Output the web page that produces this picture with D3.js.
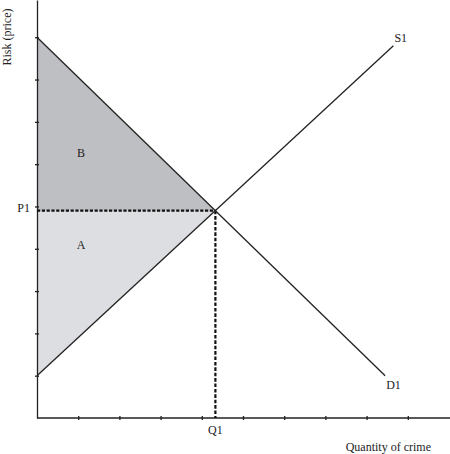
<!DOCTYPE html>
<meta charset="utf-8">
<script src="https://d3js.org/d3.v7.min.js"></script>
<body>
<svg width="450" height="454"></svg>
<style type="text/css">
body{ margin: 0; background: #fff; }
text{ font-family: 'Liberation Serif', 'DejaVu Serif', serif; font-size: 12px; fill: #222; }
</style>
<script>
    // values (axis units: one tick = 1)
    const xTicks = [1, 2, 3, 4, 5, 6, 7, 8, 9];
    const yTicks = [1, 2, 3, 4, 5, 6, 7, 8, 9];
    const demand = [[0, 9], [8.45, 1.0]];
    const supply = [[0, 1], [8.65, 8.8]];
    const Q1 = 4.33, P1 = 4.9;
    const areaB = [[0, 9], [Q1, P1], [0, P1]];
    const areaA = [[0, P1], [Q1, P1], [0, 1]];

    var svg = d3.select('svg');
    var x = d3.scaleLinear().domain([0, 10]).range([37, 449]);
    var y = d3.scaleLinear().domain([0, 9.88]).range([418, 0]);
    var line = d3.line().x(d => x(d[0])).y(d => y(d[1]));

    // shaded areas
    svg.append('path').datum(areaB)
        .attr('d', d => line(d) + 'Z')
        .attr('fill', '#bebfc2');
    svg.append('path').datum(areaA)
        .attr('d', d => line(d) + 'Z')
        .attr('fill', '#dddee1');

    // axes
    var xAxis = svg.append('g')
        .attr('transform', 'translate(0,' + y(0) + ')')
        .call(d3.axisBottom(x).tickValues(xTicks).tickSize(2).tickSizeOuter(0).tickFormat(''));
    xAxis.select('.domain').attr('d', 'M' + x(0) + ',0H450');
    xAxis.selectAll('.tick line').attr('y1', -2).attr('y2', 2);

    var yAxis = svg.append('g')
        .attr('transform', 'translate(' + x(0) + ',0)')
        .call(d3.axisLeft(y).tickValues(yTicks).tickSize(2).tickSizeOuter(0).tickFormat(''));
    yAxis.selectAll('.tick line').attr('x1', -2).attr('x2', 2);
    svg.selectAll('.domain, .tick line').attr('stroke', '#222').attr('stroke-width', 1.3);

    // dashed guides
    svg.append('path').datum([[0, P1], [Q1, P1]])
        .attr('d', line).attr('fill', 'none')
        .attr('stroke', '#111').attr('stroke-width', 2.2).attr('stroke-dasharray', '3.2,1.6');
    svg.append('path').datum([[Q1, P1], [Q1, 0]])
        .attr('d', line).attr('fill', 'none')
        .attr('stroke', '#111').attr('stroke-width', 2.2).attr('stroke-dasharray', '3.6,1.8');

    // curves
    svg.selectAll('path.curve').data([demand, supply]).enter().append('path')
        .attr('class', 'curve')
        .attr('d', line).attr('fill', 'none')
        .attr('stroke', '#222').attr('stroke-width', 1.3);

    // labels
    svg.append('text').attr('x', x(demand[1][0]) + 1).attr('y', y(demand[1][1]) + 13).text('D1');
    svg.append('text').attr('x', x(supply[1][0]) + 1).attr('y', y(supply[1][1]) - 4).text('S1');
    svg.append('text').attr('x', x(0) - 7).attr('y', y(P1) + 1).attr('text-anchor', 'end').text('P1');
    svg.append('text').attr('x', x(Q1)).attr('y', y(0) + 16).attr('text-anchor', 'middle').text('Q1');
    svg.append('text').attr('x', x(1.07)).attr('y', y(6.17)).attr('text-anchor', 'middle').text('B');
    svg.append('text').attr('x', x(1.07)).attr('y', y(4.0)).attr('text-anchor', 'middle').text('A');
    svg.append('text').attr('x', 431).attr('y', 451).attr('text-anchor', 'end').text('Quantity of crime');
    svg.append('text').attr('transform', 'translate(11,37) rotate(-90)')
        .attr('text-anchor', 'middle').text('Risk (price)');
</script>
</body>
